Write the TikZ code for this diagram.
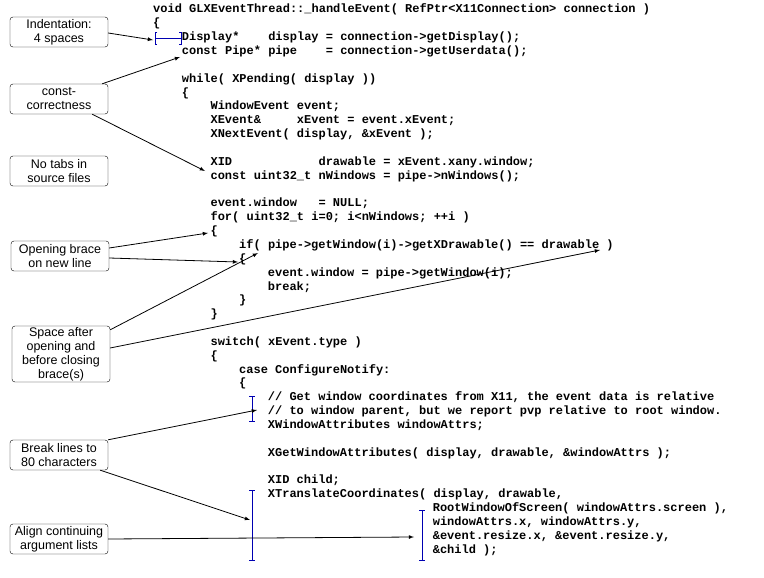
\documentclass[tikz,border=0pt]{standalone}
\usepackage{fontspec}
\setmainfont{Liberation Sans}
\setmonofont{Liberation Mono}
\begin{document}
\begin{tikzpicture}[x=1pt,y=-1pt,
  box/.style={draw,rounded corners=3pt,fill=white,minimum width=98pt,align=center,font=\fontsize{12.5}{14}\selectfont,inner sep=1pt},
  arr/.style={-latex,thick,black},
  ibeam/.style={draw=blue!70!black,thin,|-|}]
\useasboundingbox (0,0) rectangle (764,578);
\def\cw{7.17}
\def\ls{13.85}
\newcommand\cl[3]{\node[anchor=base west,inner sep=0,font=\ttfamily\bfseries\fontsize{12}{12}\selectfont] (#1) at ({153+#2*\cw},{13+\ls*#1}) {#3};}
\cl{0}{0}{void GLXEventThread::\_handleEvent( RefPtr<X11Connection> connection )}
\cl{1}{0}{\{}
\cl{2}{4}{Display*~~~~display = connection->getDisplay();}
\cl{3}{4}{const Pipe* pipe~~~~= connection->getUserdata();}
\cl{5}{4}{while( XPending( display ))}
\cl{6}{4}{\{}
\cl{7}{8}{WindowEvent event;}
\cl{8}{8}{XEvent\&~~~~~xEvent = event.xEvent;}
\cl{9}{8}{XNextEvent( display, \&xEvent );}
\cl{11}{8}{XID~~~~~~~~~~~~drawable = xEvent.xany.window;}
\cl{12}{8}{const uint32\_t nWindows = pipe->nWindows();}
\cl{14}{8}{event.window~~~= NULL;}
\cl{15}{8}{for( uint32\_t i=0; i<nWindows; ++i )}
\cl{16}{8}{\{}
\cl{17}{12}{if( pipe->getWindow(i)->getXDrawable() == drawable )}
\cl{18}{12}{\{}
\cl{19}{16}{event.window = pipe->getWindow(i);}
\cl{20}{16}{break;}
\cl{21}{12}{\}}
\cl{22}{8}{\}}
\cl{24}{8}{switch( xEvent.type )}
\cl{25}{8}{\{}
\cl{26}{12}{case ConfigureNotify:}
\cl{27}{12}{\{}
\cl{28}{16}{// Get window coordinates from X11, the event data is relative}
\cl{29}{16}{// to window parent, but we report pvp relative to root window.}
\cl{30}{16}{XWindowAttributes windowAttrs;}
\cl{32}{16}{XGetWindowAttributes( display, drawable, \&windowAttrs );}
\cl{34}{16}{XID child;}
\cl{35}{16}{XTranslateCoordinates( display, drawable,}
\cl{36}{39}{RootWindowOfScreen( windowAttrs.screen ),}
\cl{37}{39}{windowAttrs.x, windowAttrs.y,}
\cl{38}{39}{\&event.resize.x, \&event.resize.y,}
\cl{39}{39}{\&child );}
% blue markers
\draw[draw=blue!70!black,thin] (157,32) -- (155,32) -- (155,44) -- (157,44)
  (155,38) -- (181,38) (179,32) -- (181,32) -- (181,44) -- (179,44);
\draw[ibeam] (252,396) -- (252,421);
\draw[ibeam] (252,490) -- (252,560);
\draw[ibeam] (422,510) -- (422,560);
% boxes
\node[box,minimum height=30pt] (b1) at (59,32) {Indentation:\\4 spaces};
\node[box,minimum height=30pt] (b2) at (59,99) {const-\\correctness};
\node[box,minimum height=30pt] (b3) at (59,171) {No tabs in\\source files};
\node[box,minimum height=30pt] (b4) at (60,256) {Opening brace\\on new line};
\node[box,minimum height=56pt] (b5) at (61,354) {Space after\\opening and\\before closing\\brace(s)};
\node[box,minimum height=30pt] (b6) at (59,455) {Break lines to\\80 characters};
\node[box,minimum height=30pt] (b7) at (59,539) {Align continuing\\argument lists};
\coordinate (t1) at (153,40);
\coordinate (t2a) at (180,57);
\coordinate (t2b) at (205,171);
\coordinate (t4a) at (208,233);
\coordinate (t4b) at (238,262);
\coordinate (t5a) at (258,253);
\coordinate (t5b) at (600,250);
\coordinate (t6a) at (257,410);
\coordinate (t6b) at (250,520);
\coordinate (t7) at (414,537);
\draw[arr] (b1.east) ++(0,1) -- (t1);
\draw[arr] (b2.north east) ++(-6,0) -- (t2a);
\draw[arr] (b2.south east) ++(-16,0) -- (t2b);
\draw[arr] (b4.east) ++(0,-8) -- (t4a);
\draw[arr] (b4.east) ++(0,2) -- (t4b);
\draw[arr] (b5.north east) ++(0,4) -- (t5a);
\draw[arr] (b5.east) ++(0,-6) -- (t5b);
\draw[arr] (b6.north east) ++(0,0) -- (t6a);
\draw[arr] (b6.south east) ++(-8,0) -- (t6b);
\draw[arr] (b7.east) -- (t7);
\end{tikzpicture}
\end{document}
